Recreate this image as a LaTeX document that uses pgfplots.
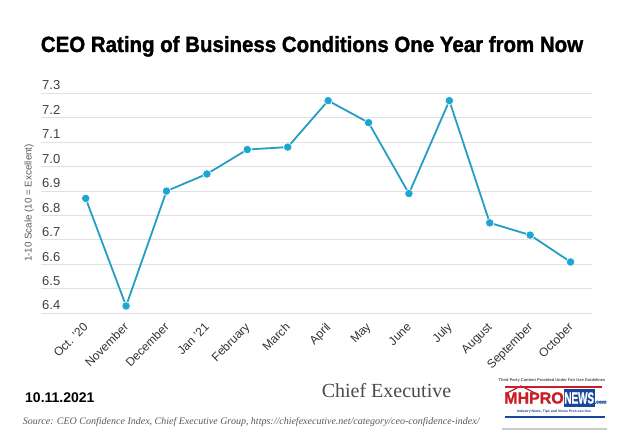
\documentclass[border=0pt]{standalone}
\usepackage{fontspec}
\setmainfont{Liberation Sans}
\newfontfamily\titlefont[FakeStretch=0.93,BoldFeatures={FakeBold=1.5}]{Liberation Sans}
\newfontfamily\logofont[BoldFeatures={FakeBold=1.2}]{Liberation Sans}
\newfontfamily\srcfont{Liberation Serif}
\usepackage{pgfplots}
\pgfplotsset{compat=1.18}
\definecolor{lineblue}{RGB}{38,158,196}
\definecolor{dotblue}{RGB}{27,166,212}
\definecolor{mhred}{RGB}{200,30,40}
\definecolor{mhblue}{RGB}{25,70,155}
\begin{document}
\begin{tikzpicture}[x=1pt,y=1pt]
\fill[white] (0,0) rectangle (624,439);
\useasboundingbox (0,0) rectangle (624,439);

% title
\node[anchor=base] at (312,387) {\titlefont\bfseries\fontsize{22}{22}\selectfont CEO Rating of Business Conditions One Year from Now};

\begin{axis}[
    at={(41pt,125.7pt)}, anchor=south west,
    width=551pt, height=220pt, scale only axis,
    xmin=-1.106, xmax=12.53,
    ymin=6.4, ymax=7.3,
    clip=false,
    axis line style={draw=none},
    major tick length=0pt,
    ytick={6.4,6.5,6.6,6.7,6.8,6.9,7.0,7.1,7.2,7.3},
    yticklabel style={anchor=south west, inner sep=1pt, yshift=2pt,
        font=\fontsize{13}{13}\selectfont, text=black!75,
        /pgf/number format/.cd, fixed, fixed zerofill, precision=1},
    /pgf/number format/assume math mode=true,
    ymajorgrids,
    grid style={line width=1pt, draw=black!12},
    xtick={0,...,12},
    xticklabels={Oct. '20,November,December,Jan '21,February,March,April,May,June,July,August,September,October},
    xticklabel style={xshift=-3pt, yshift=-7pt, rotate=45, anchor=north east, inner sep=1pt,
        font=\fontsize{12}{12}\selectfont, text=black!80},
]
\addplot[color=lineblue, line width=1.8pt, mark=*, mark size=4.2pt,
    mark options={fill=dotblue, draw=white, line width=0.6pt}]
coordinates {(0,6.87) (1,6.43) (2,6.90) (3,6.97) (4,7.07) (5,7.08) (6,7.27)
             (7,7.18) (8,6.89) (9,7.27) (10,6.77) (11,6.72) (12,6.61)};
\end{axis}

% y axis label
\node[rotate=90, text=black!65, font=\fontsize{9.8}{9.8}\selectfont] at (29,236) {1-10 Scale (10 = Excellent)};

% footer
\node[anchor=west, inner sep=0pt, font=\bfseries\fontsize{14}{14}\selectfont] at (25,41) {10.11.2021};
\node[text=black!70, inner sep=0pt, font=\srcfont\fontsize{20}{20}\selectfont] at (386.5,48) {Chief Executive};
\node[anchor=west, inner sep=0pt, text=black!65, font=\srcfont\itshape\fontsize{10}{10}\selectfont] at (22.7,17) {Source: CEO Confidence Index, Chief Executive Group, https://chiefexecutive.net/category/ceo-confidence-index/};

% MHProNews logo
\node[text=black!70, font=\bfseries\fontsize{4}{4}\selectfont] at (552,59) {Third Party Content Provided Under Fair Use Guidelines};
\draw[black!20, line width=1.5pt] (502,10) -- (607,10);
\draw[mhred, line width=1.2pt] (505,52) -- (602,52);
\draw[mhred, line width=1.2pt] (507,46) -- (521,53) -- (535,46);
\node[anchor=west, inner sep=0pt] at (504,41) {\logofont\bfseries\fontsize{16}{16}\selectfont\textcolor{mhred}{MHPRO}\scalebox{0.62}[1]{\colorbox{mhblue}{\hspace{-2pt}\textcolor{white}{NEWS}\hspace{-2pt}}}\textcolor{mhblue}{\fontsize{5}{5}\selectfont .com}};
\node[text=mhblue, font=\bfseries\fontsize{3.5}{3.5}\selectfont] at (554,27) {Industry News, Tips and Views Pros can Use};
\draw[mhblue, line width=1.2pt] (505,22) -- (605,22);
\end{tikzpicture}
\end{document}
